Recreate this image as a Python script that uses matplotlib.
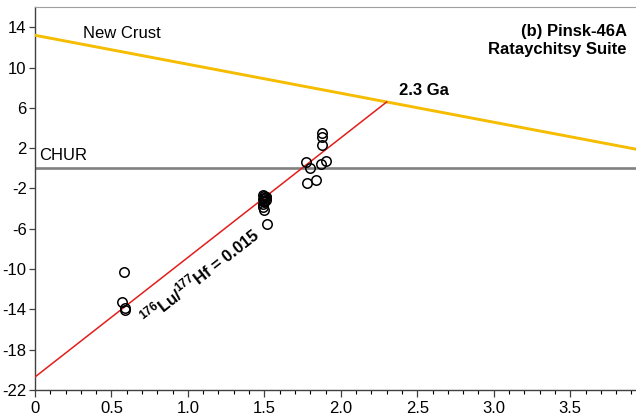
import numpy as np
import matplotlib
matplotlib.use("Agg")
import matplotlib.pyplot as plt
from matplotlib.ticker import MultipleLocator, FuncFormatter

plt.rcParams['font.family'] = ['Liberation Sans', 'DejaVu Sans']
plt.rcParams['mathtext.fontset'] = 'custom'
plt.rcParams['mathtext.rm'] = 'Liberation Sans:bold'
plt.rcParams['mathtext.bf'] = 'Liberation Sans:bold'
plt.rcParams['axes.unicode_minus'] = False

# zircon Hf data, Pinsk-46A
age_ga = [0.58, 0.57, 0.59, 0.59,
          1.49, 1.50, 1.51, 1.50, 1.49, 1.51, 1.50, 1.50, 1.49, 1.51,
          1.49, 1.50, 1.52,
          1.77, 1.80, 1.78, 1.84, 1.88, 1.88, 1.88, 1.87, 1.90]
eps_hf = [-10.3, -13.3, -13.9, -14.1,
          -2.6, -2.7, -2.8, -2.9, -3.0, -3.1, -3.2, -3.3, -3.5, -2.8,
          -3.8, -4.1, -5.5,
          0.6, 0.0, -1.5, -1.2, 3.5, 3.1, 2.3, 0.4, 0.7]

# reference lines
crust_age = [0.0, 3.93]
crust_eps = [13.2, 1.9]
chur_eps = 0.0
model_age = 2.3
start_eps = -20.7

crust_slope = (crust_eps[1] - crust_eps[0]) / (crust_age[1] - crust_age[0])
model_eps = crust_eps[0] + crust_slope * model_age
evol_age = [0.0, model_age]
evol_eps = [start_eps, model_eps]

fig = plt.figure(figsize=(6.36, 4.15), dpi=100)
ax = fig.add_axes([0.055, 0.060, 0.945, 0.923])

ax.axhline(chur_eps, color='#808080', lw=1.9, zorder=2)
ax.plot(crust_age, crust_eps, color='#F5BC00', lw=2.1, zorder=3)
ax.plot(evol_age, evol_eps, color='#E31E1A', lw=1.1, zorder=3)
ax.plot(age_ga, eps_hf, 'o', mfc='none', mec='black', mew=1.1, ms=6.8, zorder=4)

ax.text(0.315, 13.4, 'New Crust', fontsize=12, va='center', ha='left')
ax.text(0.03, 1.25, 'CHUR', fontsize=12, va='center', ha='left')
ax.text(model_age + 0.08, 7.7, f'{model_age} Ga', fontsize=12,
        fontweight='bold', va='center', ha='left')
ax.text(0.985, 0.955, '(b) Pinsk-46A\nRataychitsy Suite', transform=ax.transAxes,
        fontsize=12, fontweight='bold', ha='right', va='top', linespacing=1.2)

slope_deg = np.degrees(np.arctan((model_eps - start_eps) / model_age))
ax.text(1.08, -10.6, r'$^{176}$Lu/$^{177}$Hf = 0.015', fontsize=12,
        fontweight='bold', ha='center', va='center',
        rotation=slope_deg, transform_rotates_text=True, rotation_mode='anchor')

ax.set_xlim(0, 3.93)
ax.set_ylim(-22, 16)
ax.xaxis.set_major_locator(MultipleLocator(0.5))
ax.xaxis.set_minor_locator(MultipleLocator(0.1))
ax.xaxis.set_major_formatter(FuncFormatter(lambda v, p: '0' if v == 0 else f'{v:.1f}'))
ax.set_yticks(np.arange(-22, 15, 4))

ax.tick_params(axis='both', labelsize=12, direction='out', color='#404040')
ax.tick_params(axis='y', which='major', length=4, width=0.9, pad=2)
ax.tick_params(axis='x', which='major', length=5, width=0.9, pad=3)
ax.tick_params(axis='x', which='minor', length=3, width=0.8)

ax.spines['right'].set_visible(False)
ax.spines['top'].set_color('#a0a0a0')
for side in ('left', 'bottom'):
    ax.spines[side].set_color('#404040')
    ax.spines[side].set_linewidth(1.0)

fig.savefig('out.png', dpi=100)
